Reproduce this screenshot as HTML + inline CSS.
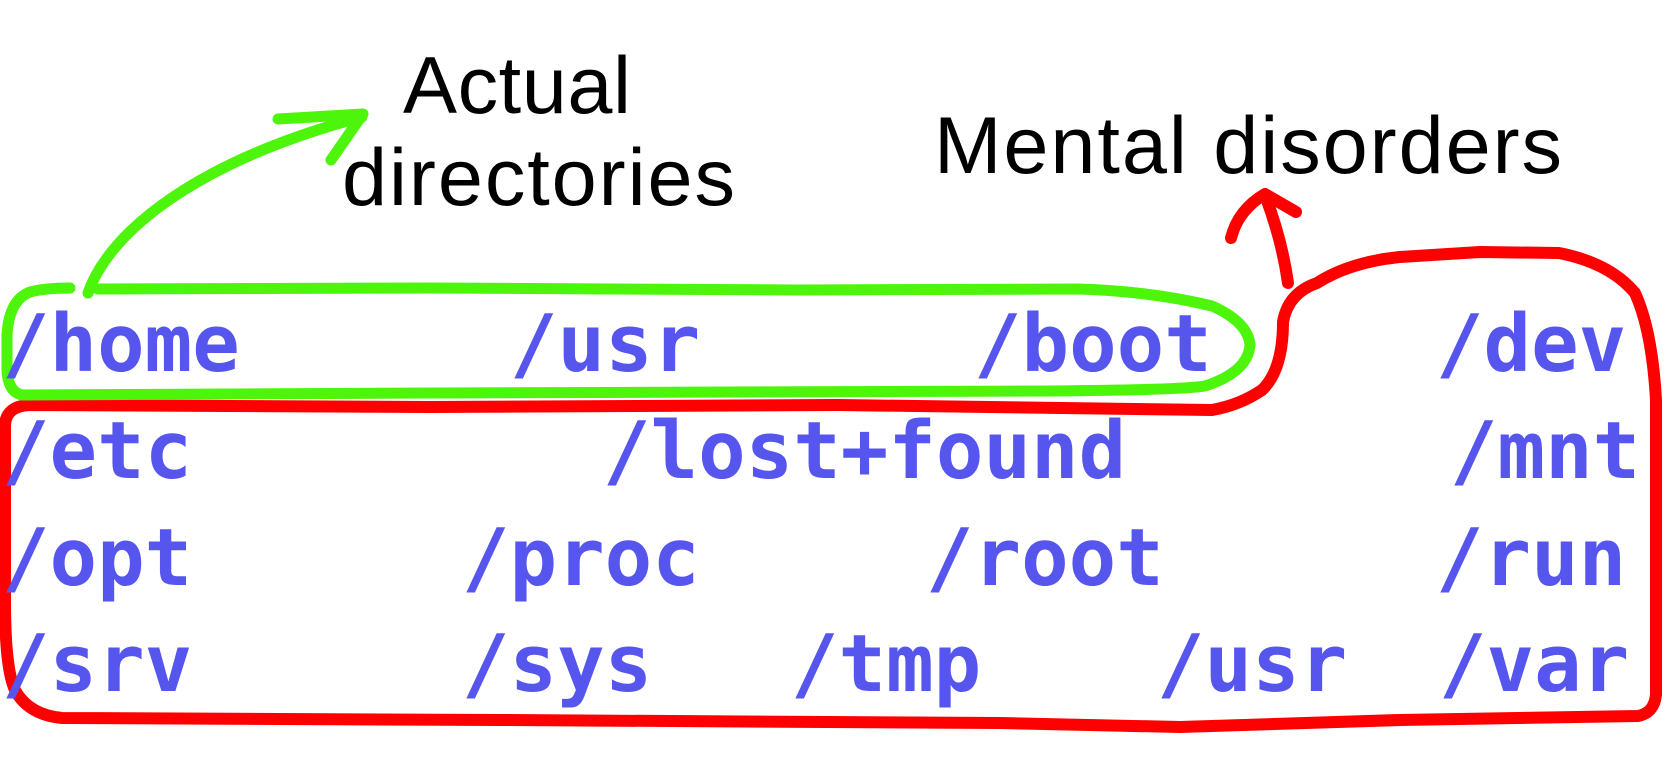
<!DOCTYPE html>
<html>
<head>
<meta charset="utf-8">
<style>
  html, body { margin: 0; padding: 0; background: #ffffff; }
  body { width: 1676px; height: 767px; overflow: hidden; }
  svg { display: block; }
  .lbl { font-family: "Liberation Sans", "DejaVu Sans", sans-serif; font-size: 81px; fill: #000; }
  .dir { font-family: "DejaVu Sans Mono", "Liberation Mono", monospace; font-weight: bold; font-size: 79px; fill: #5656ee; }
</style>
</head>
<body>
<svg width="1676" height="767" viewBox="0 0 1676 767" xmlns="http://www.w3.org/2000/svg">
  <rect width="1676" height="767" fill="#ffffff"/>

  <!-- labels -->
  <text class="lbl" x="403" y="113" textLength="228">Actual</text>
  <text class="lbl" x="342" y="205" textLength="393">directories</text>
  <text class="lbl" x="934" y="173" textLength="628">Mental disorders</text>

  <!-- red loop -->
  <path d="M 5,425 Q 6,406 30,405 L 430,407 L 838,405 L 1212,410 Q 1240,405 1262,390 Q 1283,370 1283,322 Q 1288,293 1317,283 Q 1350,262 1400,257 L 1480,252 L 1559,253 Q 1610,263 1635,293 Q 1652,330 1656,400 L 1656,695 Q 1654,713 1638,716 L 1400,720 L 1180,727 L 1000,723 L 500,720 L 62,718 Q 30,715 16,692 Q 5,672 5,600 Z"
        fill="none" stroke="#ff0000" stroke-width="12" stroke-linejoin="round" stroke-linecap="round"/>

  <!-- red arrow -->
  <path d="M 1288,283 Q 1282,240 1265,195" fill="none" stroke="#ff0000" stroke-width="12" stroke-linecap="round"/>
  <path d="M 1231,238 Q 1238,210 1265,194 L 1296,212" fill="none" stroke="#ff0000" stroke-width="12" stroke-linecap="round" stroke-linejoin="round"/>

  <!-- green loop -->
  <path d="M 98,289 L 430,288 L 800,290 L 1078,289 Q 1150,291 1212,306 Q 1248,322 1250,345 Q 1248,372 1205,386 Q 1180,390 1052,391 L 430,393 L 22,395 Q 8,392 7,370 L 7,335 Q 9,300 30,292 Q 45,288 70,288"
        fill="none" stroke="#4cf50a" stroke-width="11" stroke-linejoin="round" stroke-linecap="round"/>

  <!-- green arrow -->
  <path d="M 88,293 C 110,230 200,160 362,117" fill="none" stroke="#4cf50a" stroke-width="11" stroke-linecap="round"/>
  <path d="M 278,119 L 363,114 L 331,160" fill="none" stroke="#4cf50a" stroke-width="11" stroke-linecap="round" stroke-linejoin="round"/>

  <!-- directories -->
  <text class="dir" x="2" y="371">/home</text>
  <text class="dir" x="510" y="371">/usr</text>
  <text class="dir" x="974" y="371">/boot</text>
  <text class="dir" x="1436" y="371">/dev</text>

  <text class="dir" x="2" y="478">/etc</text>
  <text class="dir" x="603" y="478">/lost+found</text>
  <text class="dir" x="1450" y="478">/mnt</text>

  <text class="dir" x="2" y="585">/opt</text>
  <text class="dir" x="462" y="585">/proc</text>
  <text class="dir" x="926" y="585">/root</text>
  <text class="dir" x="1436" y="585">/run</text>

  <text class="dir" x="2" y="691">/srv</text>
  <text class="dir" x="462" y="691">/sys</text>
  <text class="dir" x="791" y="691">/tmp</text>
  <text class="dir" x="1157" y="691">/usr</text>
  <text class="dir" x="1439" y="691">/var</text>
</svg>
</body>
</html>
